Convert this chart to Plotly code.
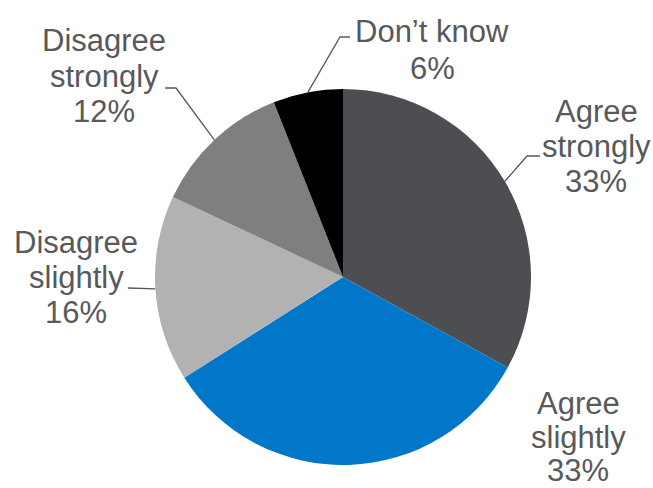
import math
import plotly.graph_objects as go

# ---- data ----
categories = ["Agree strongly", "Agree slightly", "Disagree slightly", "Disagree strongly", "Don’t know"]
values = [33, 33, 16, 12, 6]
label_lines = [
    ["Agree", "strongly", "33%"],
    ["Agree", "slightly", "33%"],
    ["Disagree", "slightly", "16%"],
    ["Disagree", "strongly", "12%"],
    ["Don’t know", "6%"],
]
colors = ["#4d4e52", "#0077c8", "#b2b2b2", "#7f7f7f", "#000000"]

# ---- layout constants (pixels) ----
W, H = 653, 488
CX, CY, R = 343, 277, 188
FONT = dict(family="Liberation Sans, Arial, sans-serif", size=31, color="#58595b")
LINE_COLOR = "#58595b"

# label placement: center x, baselines of each line
label_pos = [
    (596, [122, 157, 192]),
    (578, [414, 448, 481]),
    (76, [253, 288, 323]),
    (104, [52, 87, 122]),
    (432, [43, 79]),
]
# leader line path after the pie edge point (None = no leader)
leader_path = [
    [(527, 156), (540, 156)],
    None,
    [(128, 288)],
    [(176, 88), (165, 88)],
    [(340, 37), (350, 37)],
]


def px(x, y):
    return x / W, 1 - y / H


fig = go.Figure(go.Pie(
    labels=categories,
    values=values,
    sort=False,
    direction="clockwise",
    rotation=0,
    marker=dict(colors=colors, line=dict(width=0)),
    textinfo="none",
    hoverinfo="label+percent",
    showlegend=False,
    domain=dict(x=[(CX - R) / W, (CX + R) / W], y=[(H - CY - R) / H, (H - CY + R) / H]),
))

annotations = []
shapes = []
total = sum(values)
cum = 0
for i, v in enumerate(values):
    mid = (cum + v / 2) / total * 2 * math.pi
    cum += v
    ex = CX + R * math.sin(mid)
    ey = CY - R * math.cos(mid)
    if leader_path[i]:
        pts = [(ex, ey)] + leader_path[i]
        path = "M " + " L ".join(f"{px(x, y)[0]:.5f},{px(x, y)[1]:.5f}" for x, y in pts)
        shapes.append(dict(type="path", xref="paper", yref="paper", path=path,
                           line=dict(color=LINE_COLOR, width=1.3)))
    lx, baselines = label_pos[i]
    for line, b in zip(label_lines[i], baselines):
        x, y = px(lx, b - 11)
        annotations.append(dict(text=line, x=x, y=y, xref="paper", yref="paper",
                                xanchor="center", yanchor="middle", showarrow=False,
                                borderpad=0, font=FONT))

fig.update_layout(
    width=W, height=H,
    margin=dict(l=0, r=0, t=0, b=0),
    paper_bgcolor="white", plot_bgcolor="white",
    annotations=annotations, shapes=shapes,
)

fig.write_html("out.html", config={"displayModeBar": False},
               post_script="document.body.style.margin='0';document.body.style.overflow='hidden';")
